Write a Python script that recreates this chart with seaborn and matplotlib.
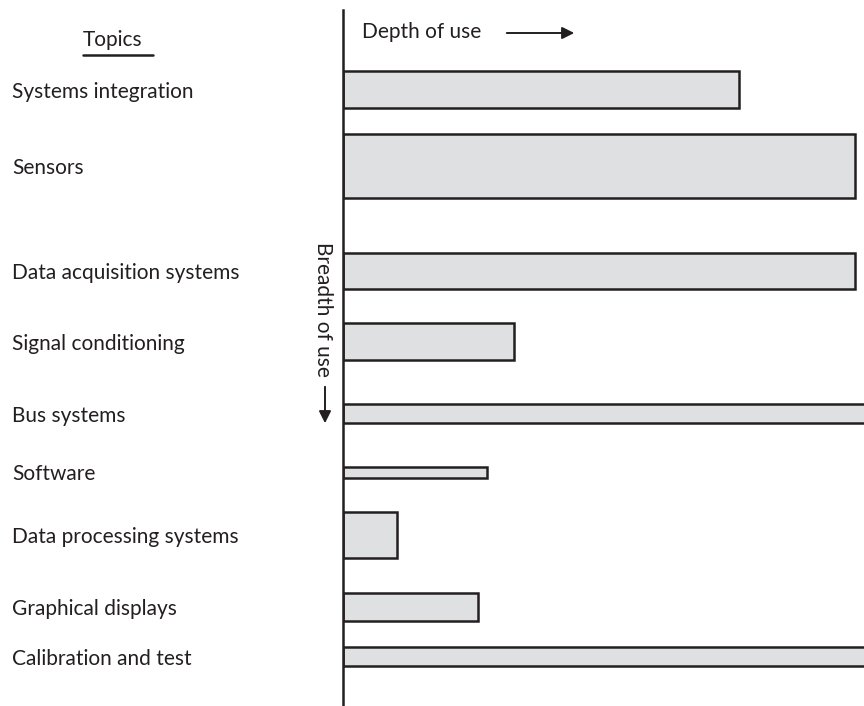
import matplotlib
matplotlib.use("Agg")
import matplotlib.pyplot as plt
import seaborn as sns
import pandas as pd

# topics, how deep each is used (bar length) and how broadly (bar thickness)
topics = ["Systems integration", "Sensors", "Data acquisition systems",
          "Signal conditioning", "Bus systems", "Software",
          "Data processing systems", "Graphical displays", "Calibration and test"]
depth = [7.73, 10.0, 10.0, 3.34, 10.5, 2.81, 1.05, 2.64, 10.5]
breadth = [3.7, 6.4, 3.6, 3.7, 1.9, 1.1, 4.6, 2.8, 1.9]
row_pos = [8.95, 16.6, 27.05, 34.15, 41.35, 47.2, 53.45, 60.7, 65.65]

sns.set_theme(style="white")
plt.rcParams["font.family"] = ["Lato", "DejaVu Sans"]

ink = "#231f20"
fill = "#dfe0e2"
fs = 15

df = pd.DataFrame({"topic": topics, "depth": depth, "breadth": breadth, "pos": row_pos})

W, H = 864, 706
fig = plt.figure(figsize=(W / 100, H / 100), dpi=100)
x0 = 343
ax = fig.add_axes([x0 / W, 0, 1 - x0 / W, 1])

sns.barplot(data=df, x="depth", y="pos", orient="h", native_scale=True,
            color=fill, edgecolor=ink, linewidth=1.8, saturation=1, ax=ax)

# bar thickness = breadth of use
for p in ax.patches:
    c = p.get_y() + p.get_height() / 2
    row = df.iloc[(df["pos"] - c).abs().argmin()]
    p.set_height(row["breadth"])
    p.set_y(row["pos"] - row["breadth"] / 2)

ax.set_xlim(0, (W - x0) / 51.2)
ax.set_ylim(H / 10, 0)
for s in ["top", "right", "bottom"]:
    ax.spines[s].set_visible(False)
ax.spines["left"].set_color(ink)
ax.spines["left"].set_linewidth(1.8)
ax.spines["left"].set_bounds(1.0, 70.5)
ax.set_xticks([])
ax.set_xlabel("")
ax.set_ylabel("")
ax.set_yticks(row_pos, topics)
ax.tick_params(axis="y", length=0, pad=(x0 - 12) * 0.72, labelsize=fs, labelcolor=ink)
for t in ax.get_yticklabels():
    t.set_ha("left")

# header and direction markers
fig.text(83 / W, 1 - 40 / H, "Topics", ha="left", va="center", fontsize=fs, color=ink)
fig.add_artist(plt.Line2D([83 / W, 153 / W], [1 - 55 / H, 1 - 55 / H], color=ink, lw=1.8))

fig.text(362 / W, 1 - 32 / H, "Depth of use", ha="left", va="center", fontsize=fs, color=ink)
ax.annotate("", xy=(577 / W, 1 - 33 / H), xytext=(504 / W, 1 - 33 / H),
            xycoords="figure fraction", textcoords="figure fraction",
            arrowprops=dict(arrowstyle="-|>", color=ink, lw=1.4, mutation_scale=18))

fig.text(323 / W, 1 - 309 / H, "Breadth of use", ha="center", va="center",
         rotation=270, fontsize=fs, color=ink)
ax.annotate("", xy=(325 / W, 1 - 426 / H), xytext=(325 / W, 1 - 384 / H),
            xycoords="figure fraction", textcoords="figure fraction",
            arrowprops=dict(arrowstyle="-|>", color=ink, lw=1.4, mutation_scale=18))

fig.savefig("out.png", dpi=100)
